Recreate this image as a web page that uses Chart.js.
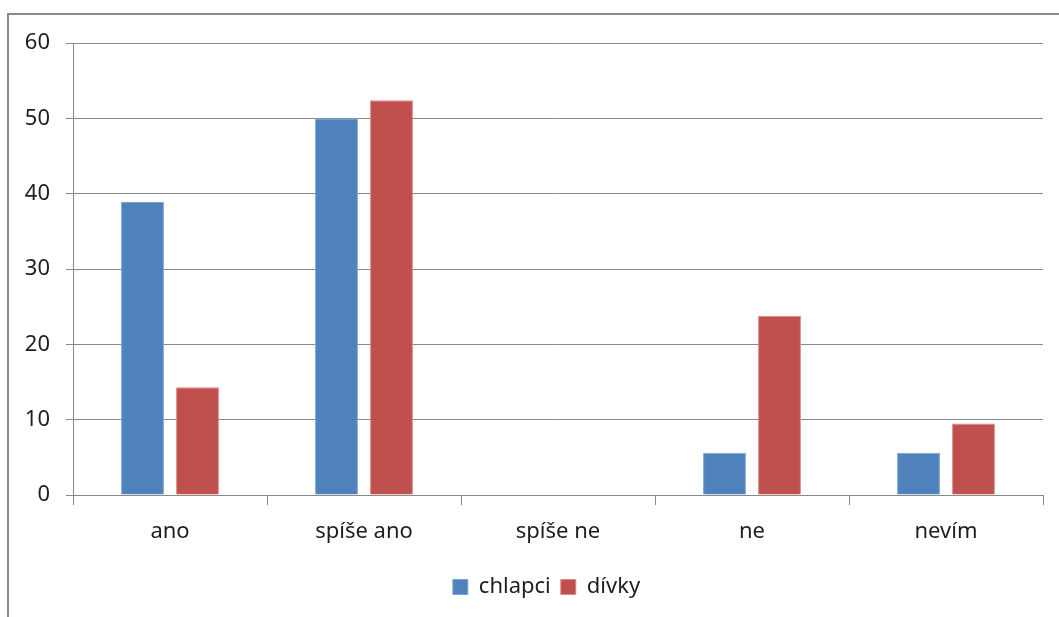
<!DOCTYPE html>
<html>
<head>
<meta charset="utf-8">
<script src="https://cdn.jsdelivr.net/npm/chart.js@4/dist/chart.umd.min.js"></script>
<style>
html,body{margin:0;padding:0;background:#fff;}
#wrap{width:1059px;height:617px;position:relative;}
</style>
</head>
<body>
<div id="wrap"><canvas id="c" width="1059" height="617"></canvas></div>
<script>
const categories = ["ano", "spíše ano", "spíše ne", "ne", "nevím"];
const chlapci = [38.9, 50.0, 0, 5.6, 5.6];
const divky = [14.3, 52.4, 0, 23.8, 9.5];
const seriesNames = ["chlapci", "dívky"];
const yTicks = [0, 10, 20, 30, 40, 50, 60];

const FONT = "'Noto Sans', 'DejaVu Sans', sans-serif";
const TEXT = "#1e1e1e";
const GRID = "#888888";

const frame = {
  id: 'frame',
  beforeDraw(chart) {
    const ctx = chart.ctx;
    ctx.save();
    ctx.fillStyle = '#fff';
    ctx.fillRect(0, 0, chart.width, chart.height);
    ctx.strokeStyle = '#8a8a8a';
    ctx.lineWidth = 2;
    ctx.beginPath();
    ctx.moveTo(8, chart.height);
    ctx.lineTo(8, 14);
    ctx.lineTo(chart.width, 14);
    ctx.stroke();
    ctx.restore();
  }
};

const legendShift = {
  id: 'legendShift',
  afterLayout(chart) {
    const lg = chart.legend;
    if (lg) { lg.left += 25; lg.right += 25; }
  }
};

new Chart(document.getElementById('c'), {
  type: 'bar',
  data: {
    labels: categories,
    datasets: [
      { label: seriesNames[0], data: chlapci, backgroundColor: '#4F81BD', borderColor: '#7DA3D3', borderWidth: 1 },
      { label: seriesNames[1], data: divky, backgroundColor: '#C0504D', borderColor: '#D98A88', borderWidth: 1 }
    ]
  },
  options: {
    responsive: false,
    animation: false,
    devicePixelRatio: 1,
    layout: { padding: { left: 0, right: 16, top: 43, bottom: 9 } },
    datasets: { bar: { categoryPercentage: 0.567, barPercentage: 0.78 } },
    scales: {
      x: {
        offset: true,
        grid: { offset: true, drawOnChartArea: false, drawTicks: true, tickLength: 10, color: GRID, lineWidth: 1 },
        border: { display: true, color: GRID, width: 1 },
        ticks: { color: TEXT, font: { family: FONT, size: 22 }, padding: 14, maxRotation: 0 },
        afterFit(scale) { scale.height = 71; }
      },
      y: {
        min: 0, max: 60,
        afterBuildTicks(scale) { scale.ticks = yTicks.map(v => ({ value: v })); },
        grid: { color: GRID, lineWidth: 1, drawTicks: true, tickLength: 7 },
        border: { display: true, color: GRID, width: 1 },
        ticks: { color: TEXT, font: { family: FONT, size: 22 }, padding: 16 },
        afterFit(scale) { scale.width = 73; }
      }
    },
    plugins: {
      legend: {
        position: 'bottom',
        labels: { boxWidth: 15, boxHeight: 15, color: TEXT, font: { family: FONT, size: 22 }, padding: 10 }
      },
      tooltip: { enabled: false }
    }
  },
  plugins: [frame, legendShift]
});
</script>
</body>
</html>
